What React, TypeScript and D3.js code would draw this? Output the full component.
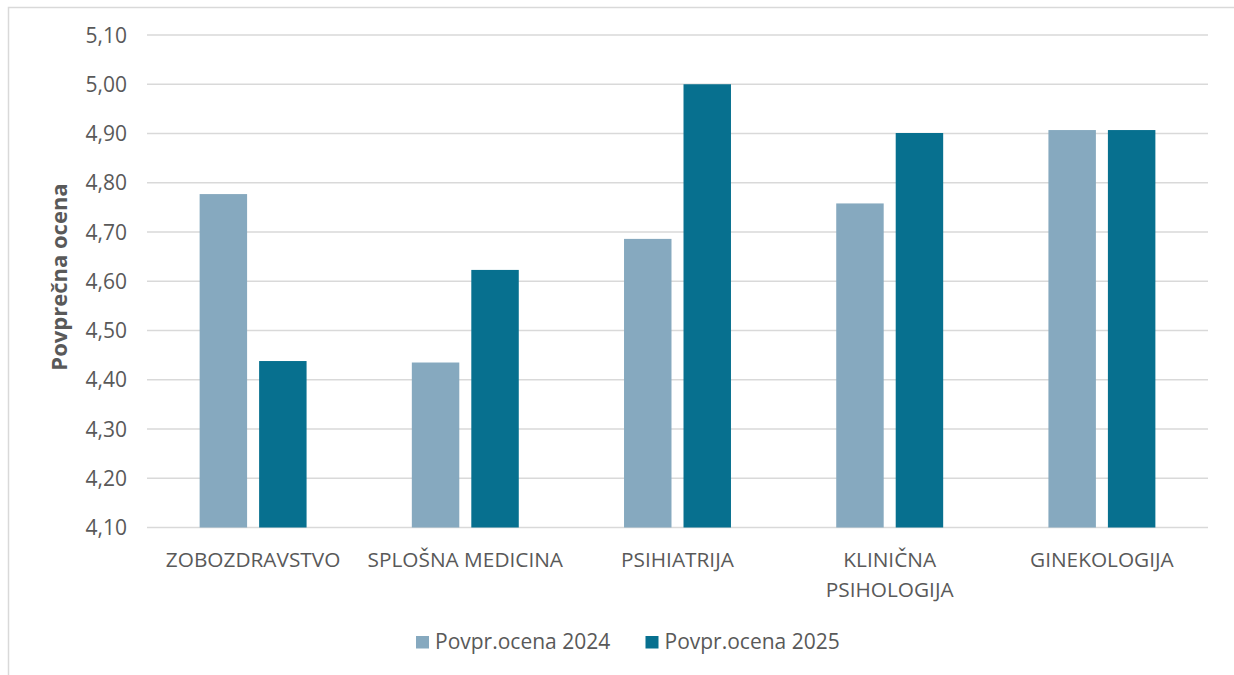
import React from "react";
import * as d3 from "d3";

// Categories and average ratings per year
const categories: string[][] = [
  ["ZOBOZDRAVSTVO"],
  ["SPLOŠNA MEDICINA"],
  ["PSIHIATRIJA"],
  ["KLINIČNA", "PSIHOLOGIJA"],
  ["GINEKOLOGIJA"],
];
const seriesNames = ["Povpr.ocena 2024", "Povpr.ocena 2025"];
const values2024 = [4.777, 4.435, 4.686, 4.758, 4.907];
const values2025 = [4.438, 4.623, 5.0, 4.901, 4.907];
const yTicks = [4.1, 4.2, 4.3, 4.4, 4.5, 4.6, 4.7, 4.8, 4.9, 5.0, 5.1];
const seriesColors = ["#86A9BF", "#07708F"];

const W = 1234;
const H = 675;
const plot = { left: 147, right: 1208, top: 35, bottom: 527.5 };
const FONT = "'Open Sans', 'Noto Sans', sans-serif";
const TEXT = "#595959";
const GRID = "#d9d9d9";

export default function App() {
  const keys = categories.map((c) => c.join(" "));
  const x = d3.scaleBand<string>().domain(keys).range([plot.left, plot.right]).padding(0);
  const y = d3.scaleLinear().domain([4.1, 5.1]).range([plot.bottom, plot.top]);
  const clusterW = x.bandwidth() * 0.504;
  const inner = d3
    .scaleBand<string>()
    .domain(seriesNames)
    .range([-clusterW / 2, clusterW / 2])
    .paddingInner(0.202)
    .paddingOuter(0);
  const fmt = (v: number) => v.toFixed(2).replace(".", ",");
  const series = [values2024, values2025];

  return (
    <svg
      width={W}
      height={H}
      style={{ position: "absolute", left: 0, top: 0, background: "#fff" }}
      fontFamily={FONT}
    >
      <rect x={0} y={0} width={W} height={H} fill="#fff" />
      {/* chart frame */}
      <rect x={8.5} y={7.5} width={W + 20} height={H + 20} fill="none" stroke={GRID} strokeWidth={1.5} />

      {/* gridlines and tick labels */}
      {yTicks.map((t) => (
        <g key={t}>
          <line x1={plot.left} x2={plot.right} y1={y(t)} y2={y(t)} stroke={GRID} strokeWidth={1.5} />
          <text x={127} y={y(t) + 7.5} textAnchor="end" fontSize={21} fill={TEXT}>
            {fmt(t)}
          </text>
        </g>
      ))}

      {/* bars */}
      {series.map((vals, si) =>
        vals.map((v, ci) => {
          const cx = (x(keys[ci]) as number) + x.bandwidth() / 2;
          const bx = cx + (inner(seriesNames[si]) as number);
          return (
            <rect
              key={`${si}-${ci}`}
              x={bx}
              y={y(v)}
              width={inner.bandwidth()}
              height={y(4.1) - y(v)}
              fill={seriesColors[si]}
            />
          );
        })
      )}

      {/* category labels */}
      {categories.map((lines, ci) => {
        const cx = (x(keys[ci]) as number) + x.bandwidth() / 2;
        return (
          <text key={ci} x={cx} y={567} textAnchor="middle" fontSize={20.8} fill={TEXT}>
            {lines.map((l, li) => (
              <tspan key={li} x={cx} dy={li === 0 ? 0 : 29.5}>
                {l}
              </tspan>
            ))}
          </text>
        );
      })}

      {/* y-axis title */}
      <text
        transform={`translate(67,${277}) rotate(-90)`}
        textAnchor="middle"
        fontSize={22}
        fontWeight="bold"
        fill={TEXT}
      >
        Povprečna ocena
      </text>

      {/* legend */}
      {seriesNames.map((name, si) => {
        const lx = si === 0 ? 416 : 645.5;
        return (
          <g key={name}>
            <rect x={lx} y={636} width={13} height={12.5} fill={seriesColors[si]} />
            <text x={lx + 19} y={648.5} fontSize={21} fill={TEXT}>
              {name}
            </text>
          </g>
        );
      })}
    </svg>
  );
}
